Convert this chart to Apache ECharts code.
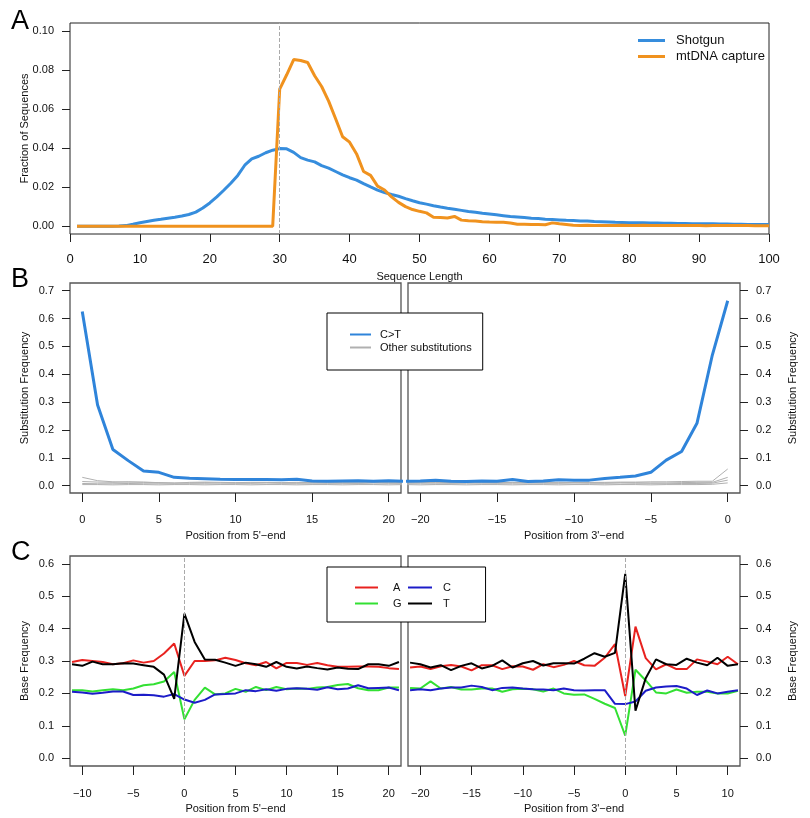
<!DOCTYPE html>
<html>
<head>
<meta charset="utf-8">
<script src="https://cdn.jsdelivr.net/npm/echarts@6/dist/echarts.min.js"></script>
<style>
  html, body { margin: 0; padding: 0; background: #fff; }
  #chart { width: 810px; height: 818px; }
</style>
</head>
<body>
<div id="chart"></div>
<script>
// ---- panel A: read length distribution (lengths 1..100)
var shotgun = [0, 0, 0, 0, 0, 0, 0.0001, 0.0003, 0.001, 0.0018,
  0.0024, 0.003, 0.0035, 0.0041, 0.0046, 0.0052, 0.006, 0.0072, 0.0093, 0.0119,
  0.015, 0.0184, 0.022, 0.026, 0.0312, 0.0344, 0.0358, 0.0376, 0.0389, 0.0397,
  0.0396, 0.0378, 0.0351, 0.0338, 0.0329, 0.031, 0.0297, 0.028, 0.0263, 0.0248,
  0.0236, 0.0218, 0.0201, 0.0185, 0.0172, 0.0162, 0.0153, 0.0141, 0.013, 0.012,
  0.0113, 0.0105, 0.0098, 0.0092, 0.0087, 0.0081, 0.0075, 0.0071, 0.0066, 0.0062,
  0.0058, 0.0054, 0.005, 0.0047, 0.0044, 0.0041, 0.0039, 0.0036, 0.0034, 0.0032,
  0.003, 0.0029, 0.0027, 0.0026, 0.0024, 0.0023, 0.0022, 0.002, 0.0019, 0.0018,
  0.0018, 0.0017, 0.0016, 0.0016, 0.0015, 0.0015, 0.0014, 0.0014, 0.0013, 0.0013,
  0.0012, 0.0012, 0.0011, 0.0011, 0.001, 0.001, 0.0009, 0.0009, 0.0008, 0.0008];
var mtCapture = [0, 0, 0, 0, 0, 0, 0, 0, 0, 0,
  0, 0, 0, 0, 0, 0, 0, 0, 0, 0,
  0, 0, 0, 0, 0, 0, 0, 0, 0, 0.0702,
  0.0775, 0.0853, 0.0848, 0.0838, 0.077, 0.0715, 0.064, 0.055, 0.0458, 0.043,
  0.037, 0.028, 0.026, 0.0205, 0.0185, 0.015, 0.0122, 0.01, 0.0085, 0.0076,
  0.0068, 0.0046, 0.0044, 0.0042, 0.005, 0.0031, 0.0028, 0.0026, 0.0023, 0.0021,
  0.002, 0.002, 0.0016, 0.001, 0.001, 0.0009, 0.0009, 0.0007, 0.0017, 0.0012,
  0.0009, 0.0005, 0.0004, 0.0005, 0.0004, 0.0004, 0.0003, 0.0004, 0.0005, 0.0004,
  0.0004, 0.0005, 0.0003, 0.0003, 0.0003, 0.0003, 0.0003, 0.0003, 0.0003, 0.0003,
  0.0002, 0.0004, 0.0003, 0.0003, 0.0003, 0.0003, 0.0003, 0.0002, 0.0002, 0.0002];
var lenTicks = [0, 10, 20, 30, 40, 50, 60, 70, 80, 90, 100];
var fracTicks = [0, 0.02, 0.04, 0.06, 0.08, 0.1];

// ---- panel B: substitution frequencies
// 5' end positions 0..21, 3' end positions -21..0
var ctFive = [0.625, 0.29, 0.13, 0.09, 0.053, 0.048, 0.03, 0.027, 0.025, 0.023, 0.022,
  0.022, 0.022, 0.021, 0.023, 0.017, 0.016, 0.017, 0.018, 0.016, 0.018, 0.016];
var otherFive = [
  [0.03, 0.018, 0.014, 0.013, 0.012, 0.011, 0.01, 0.01, 0.011, 0.01, 0.01, 0.01, 0.011, 0.01, 0.01, 0.01, 0.009, 0.01, 0.01, 0.011, 0.01, 0.01],
  [0.015, 0.013, 0.012, 0.014, 0.013, 0.011, 0.009, 0.012, 0.013, 0.012, 0.011, 0.012, 0.012, 0.011, 0.012, 0.011, 0.012, 0.011, 0.01, 0.011, 0.012, 0.011],
  [0.008, 0.007, 0.007, 0.008, 0.007, 0.007, 0.006, 0.007, 0.007, 0.006, 0.007, 0.007, 0.006, 0.007, 0.007, 0.006, 0.006, 0.007, 0.007, 0.006, 0.007, 0.007],
  [0.004, 0.004, 0.003, 0.004, 0.004, 0.003, 0.004, 0.004, 0.003, 0.004, 0.004, 0.003, 0.004, 0.004, 0.003, 0.004, 0.004, 0.003, 0.004, 0.004, 0.003, 0.004]
];
var ctThree = [0.016, 0.017, 0.02, 0.016, 0.015, 0.017, 0.016, 0.022, 0.015, 0.017, 0.021,
  0.02, 0.02, 0.026, 0.03, 0.035, 0.048, 0.092, 0.123, 0.224, 0.469, 0.664];
var otherThree = [
  [0.01, 0.011, 0.01, 0.01, 0.011, 0.01, 0.01, 0.012, 0.01, 0.011, 0.01, 0.011, 0.012, 0.012, 0.013, 0.013, 0.014, 0.014, 0.015, 0.016, 0.016, 0.06],
  [0.012, 0.012, 0.011, 0.012, 0.012, 0.011, 0.012, 0.011, 0.011, 0.012, 0.012, 0.011, 0.011, 0.01, 0.011, 0.011, 0.01, 0.01, 0.011, 0.012, 0.012, 0.03],
  [0.007, 0.007, 0.006, 0.007, 0.007, 0.006, 0.007, 0.007, 0.006, 0.007, 0.007, 0.006, 0.007, 0.007, 0.006, 0.007, 0.007, 0.007, 0.008, 0.008, 0.009, 0.02],
  [0.004, 0.003, 0.004, 0.004, 0.003, 0.004, 0.004, 0.003, 0.004, 0.004, 0.003, 0.004, 0.004, 0.003, 0.004, 0.004, 0.003, 0.004, 0.004, 0.004, 0.005, 0.01]
];
var subTicks = [0, 0.1, 0.2, 0.3, 0.4, 0.5, 0.6, 0.7];

// ---- panel C: base composition around read ends
// 5' side positions -11..21, 3' side positions -21..11
var baseA5 = [0.297, 0.303, 0.3, 0.297, 0.29, 0.293, 0.302, 0.295, 0.3, 0.323, 0.354, 0.254,
  0.3, 0.3, 0.302, 0.31, 0.303, 0.293, 0.287, 0.297, 0.277, 0.294, 0.294, 0.288,
  0.294, 0.287, 0.282, 0.282, 0.283, 0.283, 0.282, 0.278, 0.275];
var baseC5 = [0.205, 0.203, 0.199, 0.202, 0.206, 0.206, 0.195, 0.196, 0.194, 0.19, 0.198, 0.181,
  0.171, 0.18, 0.197, 0.198, 0.2, 0.21, 0.207, 0.213, 0.208, 0.214, 0.216, 0.214,
  0.211, 0.219, 0.213, 0.215, 0.225, 0.216, 0.217, 0.218, 0.21];
var baseG5 = [0.21, 0.21, 0.206, 0.21, 0.213, 0.21, 0.215, 0.225, 0.228, 0.237, 0.266, 0.12,
  0.18, 0.218, 0.197, 0.2, 0.214, 0.205, 0.22, 0.21, 0.22, 0.213, 0.215, 0.214,
  0.218, 0.22, 0.226, 0.229, 0.216, 0.21, 0.21, 0.218, 0.218];
var baseT5 = [0.29, 0.285, 0.298, 0.29, 0.29, 0.293, 0.292, 0.287, 0.282, 0.258, 0.183, 0.446,
  0.359, 0.305, 0.304, 0.295, 0.285, 0.295, 0.29, 0.282, 0.297, 0.282, 0.277, 0.283,
  0.278, 0.274, 0.28, 0.276, 0.275, 0.29, 0.29, 0.285, 0.297];
var baseA3 = [0.28, 0.283, 0.275, 0.284, 0.288, 0.283, 0.271, 0.287, 0.287, 0.275, 0.284,
  0.283, 0.273, 0.29, 0.281, 0.288, 0.3, 0.287, 0.285, 0.31, 0.352, 0.192,
  0.406, 0.309, 0.274, 0.29, 0.275, 0.275, 0.305, 0.298, 0.29, 0.313, 0.29];
var baseC3 = [0.21, 0.213, 0.21, 0.215, 0.218, 0.218, 0.224, 0.22, 0.21, 0.217, 0.218,
  0.215, 0.213, 0.212, 0.21, 0.215, 0.21, 0.209, 0.21, 0.21, 0.168, 0.167,
  0.175, 0.208, 0.218, 0.221, 0.223, 0.215, 0.195, 0.209, 0.2, 0.205, 0.21];
var baseG3 = [0.217, 0.215, 0.237, 0.215, 0.22, 0.212, 0.212, 0.215, 0.215, 0.205, 0.213,
  0.214, 0.213, 0.206, 0.215, 0.2, 0.196, 0.197, 0.183, 0.168, 0.155, 0.07,
  0.273, 0.24, 0.203, 0.2, 0.212, 0.202, 0.205, 0.205, 0.2, 0.2, 0.208];
var baseT3 = [0.295, 0.29, 0.28, 0.287, 0.272, 0.285, 0.293, 0.277, 0.285, 0.302, 0.28,
  0.293, 0.3, 0.286, 0.293, 0.293, 0.292, 0.307, 0.324, 0.313, 0.325, 0.569,
  0.147, 0.247, 0.305, 0.29, 0.288, 0.307, 0.295, 0.287, 0.31, 0.285, 0.29];
var baseTicks = [0, 0.1, 0.2, 0.3, 0.4, 0.5, 0.6];

var fiveTicksB = [0, 5, 10, 15, 20];
var threeTicksB = [-20, -15, -10, -5, 0];
var fiveTicksC = [-10, -5, 0, 5, 10, 15, 20];
var threeTicksC = [-20, -15, -10, -5, 0, 5, 10];

function range(a, b) {
  var r = [];
  for (var i = a; i <= b; i++) r.push(i);
  return r;
}
var lenPos = range(1, 100);
var posB5 = range(0, 21), posB3 = range(-21, 0);
var posC5 = range(-11, 21), posC3 = range(-21, 11);

function zip(xs, ys) {
  return xs.map(function (x, i) { return [x, ys[i]]; });
}

var FONT = 'Liberation Sans, Arial, Helvetica, sans-serif';
var minus = function (v) { return v < 0 ? '\u2212' + Math.abs(v) : String(v); };

function xAx(grid, min, max, ticks, name, fs, margin, tickLen) {
  return {
    type: 'value', gridIndex: grid, min: min, max: max,
    name: name, nameLocation: 'middle', nameGap: 37, nameMoveOverlap: false,
    nameTextStyle: { fontFamily: FONT, fontSize: 11, color: '#111' },
    axisLine: { show: false, onZero: false },
    axisTick: { show: true, length: tickLen, customValues: ticks, lineStyle: { color: '#222' } },
    axisLabel: { customValues: ticks, formatter: minus, fontFamily: FONT, fontSize: fs, color: '#111', margin: margin },
    splitLine: { show: false }
  };
}
function yAx(grid, min, max, ticks, name, digits, pos, gap) {
  return {
    type: 'value', gridIndex: grid, min: min, max: max, position: pos,
    name: name, nameLocation: 'middle', nameGap: gap, nameRotate: 90, nameMoveOverlap: false,
    nameTextStyle: { fontFamily: FONT, fontSize: 11, color: '#111' },
    axisLine: { show: false, onZero: false },
    axisTick: { show: true, length: 8, customValues: ticks, lineStyle: { color: '#222' } },
    axisLabel: { customValues: ticks, formatter: function (v) { return v.toFixed(digits); },
      fontFamily: FONT, fontSize: 11, color: '#111', margin: 16 },
    splitLine: { show: false }
  };
}
function line(name, grid, data, color, width, extra) {
  var s = {
    type: 'line', name: name, xAxisIndex: grid, yAxisIndex: grid,
    data: data, showSymbol: false, symbol: 'none', silent: true,
    lineStyle: { color: color, width: width }, itemStyle: { color: color },
    animation: false, z: 3
  };
  if (extra) for (var k in extra) s[k] = extra[k];
  return s;
}
function dashed(x) {
  return {
    silent: true, symbol: 'none', label: { show: false },
    lineStyle: { type: 'dashed', color: '#aaa', width: 1 },
    data: [{ xAxis: x }]
  };
}

var BLUE = '#368ddd', ORANGE = '#f0921e', GREY = '#b0b0b0';
var RED = '#e8221f', GREEN = '#33e033', DBLUE = '#1c1cc8', BLACK = '#000';

var series = [
  line('Shotgun', 0, zip(lenPos, shotgun), BLUE, 3, { markLine: dashed(30) }),
  line('mtDNA capture', 0, zip(lenPos, mtCapture), ORANGE, 3)
];
otherFive.forEach(function (g) { series.push(line('Other substitutions', 1, zip(posB5, g), GREY, 1)); });
series.push(line('C>T', 1, zip(posB5, ctFive), '#2f84da', 3));
otherThree.forEach(function (g) { series.push(line('Other substitutions', 2, zip(posB3, g), GREY, 1)); });
series.push(line('C>T', 2, zip(posB3, ctThree), '#2f84da', 3));
series.push(line('A', 3, zip(posC5, baseA5), RED, 2, { markLine: dashed(0) }));
series.push(line('G', 3, zip(posC5, baseG5), GREEN, 2));
series.push(line('C', 3, zip(posC5, baseC5), DBLUE, 2));
series.push(line('T', 3, zip(posC5, baseT5), BLACK, 2));
series.push(line('A', 4, zip(posC3, baseA3), RED, 2, { markLine: dashed(0) }));
series.push(line('G', 4, zip(posC3, baseG3), GREEN, 2));
series.push(line('C', 4, zip(posC3, baseC3), DBLUE, 2));
series.push(line('T', 4, zip(posC3, baseT3), BLACK, 2));

var boxA = { show: true, borderColor: '#222', borderWidth: 1, backgroundColor: 'transparent' };
var boxBC = { show: true, borderColor: '#555', borderWidth: 1.3, backgroundColor: 'transparent' };
function grid(l, t, w, h, box) {
  return Object.assign({ left: l, top: t, width: w, height: h, containLabel: false }, box);
}

var legendText = { fontFamily: FONT, color: '#111' };

var option = {
  backgroundColor: '#fff',
  animation: false,
  title: [
    { text: 'A', left: 6, top: 3, textStyle: { fontFamily: FONT, fontSize: 27, fontWeight: 'normal', color: '#000' } },
    { text: 'B', left: 6, top: 261, textStyle: { fontFamily: FONT, fontSize: 27, fontWeight: 'normal', color: '#000' } },
    { text: 'C', left: 6, top: 534, textStyle: { fontFamily: FONT, fontSize: 27, fontWeight: 'normal', color: '#000' } }
  ],
  legend: [
    { data: ['Shotgun', 'mtDNA capture'], orient: 'vertical', left: 633, top: 29,
      icon: 'rect', itemWidth: 27, itemHeight: 3, itemGap: 3,
      textStyle: Object.assign({ fontSize: 13, padding: [0, 0, 0, 6] }, legendText), selectedMode: false },
    { data: ['C>T', 'Other substitutions'], orient: 'vertical', left: 327, top: 313,
      icon: 'rect', itemWidth: 21, itemHeight: 2, itemGap: 2,
      padding: [16, 11, 17, 23], borderColor: '#000', borderWidth: 1, backgroundColor: '#fff',
      textStyle: Object.assign({ fontSize: 11, padding: [0, 0, 0, 4] }, legendText), selectedMode: false },
    { data: ['A', 'G'], orient: 'vertical', left: 327, top: 567,
      icon: 'rect', itemWidth: 23, itemHeight: 2, itemGap: 5,
      padding: [15, 84, 13, 28], borderColor: '#000', borderWidth: 1, backgroundColor: '#fff',
      textStyle: Object.assign({ fontSize: 11, padding: [0, 0, 0, 10] }, legendText), selectedMode: false },
    { data: ['C', 'T'], orient: 'vertical', left: 408, top: 582,
      icon: 'rect', itemWidth: 24, itemHeight: 2, itemGap: 5, padding: 0,
      textStyle: Object.assign({ fontSize: 11, padding: [0, 0, 0, 6] }, legendText), selectedMode: false }
  ],
  grid: [
    grid(70, 23, 699, 211, boxA),
    grid(70, 283, 331, 210, boxBC),
    grid(408, 283, 332, 210, boxBC),
    grid(70, 556, 331, 210, boxBC),
    grid(408, 556, 332, 210, boxBC)
  ],
  xAxis: [
    xAx(0, 0, 100, lenTicks, 'Sequence Length', 13, 19, 8),
    xAx(1, -0.8, 20.8, fiveTicksB, "Position from 5'\u2212end", 11, 21, 9),
    xAx(2, -20.8, 0.8, threeTicksB, "Position from 3'\u2212end", 11, 21, 9),
    xAx(3, -11.2, 21.2, fiveTicksC, "Position from 5'\u2212end", 11, 22, 9),
    xAx(4, -21.2, 11.2, threeTicksC, "Position from 3'\u2212end", 11, 22, 9)
  ],
  yAxis: [
    yAx(0, -0.004, 0.104, fracTicks, 'Fraction of Sequences', 2, 'left', 40),
    yAx(1, -0.0262, 0.7276, subTicks, 'Substitution Frequency', 1, 'left', 40),
    yAx(2, -0.0262, 0.7276, subTicks, 'Substitution Frequency', 1, 'right', 47),
    yAx(3, -0.024, 0.624, baseTicks, 'Base Frequency', 1, 'left', 40),
    yAx(4, -0.024, 0.624, baseTicks, 'Base Frequency', 1, 'right', 47)
  ],
  series: series
};

var chart = echarts.init(document.getElementById('chart'), null, { renderer: 'canvas' });
chart.setOption(option);
</script>
</body>
</html>
